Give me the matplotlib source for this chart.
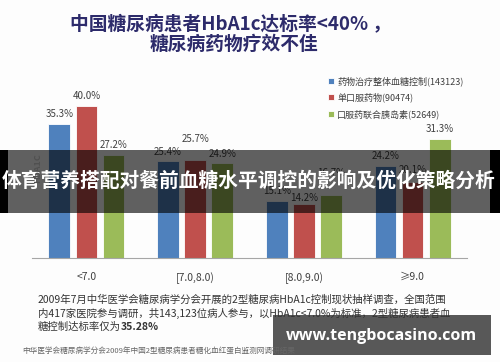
import matplotlib
matplotlib.use('Agg')
import matplotlib.pyplot as plt
from matplotlib.patches import Rectangle
import numpy as np

plt.rcParams['font.family'] = ['Noto Sans CJK SC', 'DejaVu Sans']

# data
categories = ['<7.0', '[7.0,8.0)', '[8.0,9.0)', '≥9.0']
series_names = ['药物治疗整体血糖控制(143123)', '单口服药物(90474)', '口服药联合胰岛素(52649)']
overall = [35.3, 25.4, 15.1, 24.2]
oral_only = [40.0, 25.7, 14.2, 20.1]
oral_insulin = [27.2, 24.9, 16.7, 31.3]
series_values = [overall, oral_only, oral_insulin]
colors = ['#4f81bd', '#c0504d', '#9bbb59']

title_lines = ['中国糖尿病患者HbA1c达标率<40% ，', '糖尿病药物疗效不佳']
banner_text = '体育营养搭配对餐前血糖水平调控的影响及优化策略分析'
note_lines = ['2009年7月中华医学会糖尿病学分会开展的2型糖尿病HbA1c控制现状抽样调查，全国范围',
              '内417家医院参与调研，共143,123位病人参与，以HbA1c<7.0%为标准，2型糖尿病患者血',
              '糖控制达标率仅为']
note_bold = '35.28%'
source_text = '中华医学会糖尿病学分会2009年中国2型糖尿病患者糖化血红蛋白监测网调研结果'
watermark = 'www.tengbocasino.com'

# label lifts (points) where the original moved labels up/down
label_lift = {(1, 1): 12, (2, 2): 12, (1, 2): 1, (1, 3): 5}

W, H = 500, 362
fig = plt.figure(figsize=(W / 100, H / 100), dpi=100)
fig.patch.set_facecolor('#fdfdfd')

# main chart axes, placed in pixel terms
ax = fig.add_axes([32 / W, (H - 258) / H, 435 / W, 190 / H])
ax.set_facecolor('none')
x = np.arange(len(categories))
width = 0.2
offsets = [-0.25, 0, 0.25]
bars = []
for s, (vals, col, name) in enumerate(zip(series_values, colors, series_names)):
    b = ax.bar(x + offsets[s], vals, width, color=col, edgecolor='white', linewidth=0.6, label=name)
    bars.append(b)
    for g, v in enumerate(vals):
        ax.annotate(f'{v:.1f}%', (x[g] + offsets[s], v), xytext=(0, label_lift.get((s, g), 3.5)),
                    textcoords='offset points', ha='center', va='bottom', fontsize=7, color='#404040')

ax.set_xlim(-0.5, 3.5)
ax.set_ylim(0, 50)
for sp in ['top', 'right', 'left']:
    ax.spines[sp].set_visible(False)
ax.spines['bottom'].set_color('#a6a6a6')
ax.set_yticks([])
ax.set_xticks(x)
ax.set_xticklabels(categories, fontsize=7.5, color='#404040')
ax.tick_params(axis='x', length=0, pad=10)

fig.text(38 / W, 1 - 153 / H, 'HbA1C', rotation=90, ha='center', va='top', fontsize=6.5,
         color='#505050', fontweight='bold')

fig.legend(handles=bars, labels=series_names, loc='upper left', bbox_to_anchor=(320 / W, 1 - 68 / H),
           frameon=False, fontsize=6.5, handlelength=0.6, handleheight=0.6, handletextpad=0.4,
           labelspacing=0.75, labelcolor='#404040')

# overlay in pixel coords for title, banner, notes
ov = fig.add_axes([0, 0, 1, 1])
ov.set_xlim(0, W)
ov.set_ylim(H, 0)
ov.axis('off')
ov.patch.set_alpha(0)

ov.text(231, 24, title_lines[0], ha='center', va='center', fontsize=13.5, fontweight='bold', color='#2d2b6b')
ov.text(234, 44, title_lines[1], ha='center', va='center', fontsize=13.5, fontweight='bold', color='#2d2b6b')

ov.add_patch(Rectangle((0, 150), W, 63, facecolor='black', alpha=0.62, edgecolor='none'))
ov.add_patch(Rectangle((0, 150), 8, 63, facecolor='black', edgecolor='none'))
ov.add_patch(Rectangle((490, 150), 10, 63, facecolor='black', edgecolor='none'))
ov.text(249, 181, banner_text, ha='center', va='center', fontsize=14.2, fontweight='bold', color='white')

for i, line in enumerate(note_lines):
    t = ov.text(38, 299 + i * 14, line, ha='left', va='center', fontsize=7.5, color='#333333')
fig.canvas.draw()
bb = t.get_window_extent(fig.canvas.get_renderer())
ov.text(bb.x1, 299 + 2 * 14, note_bold, ha='left', va='center', fontsize=7.5, color='#333333', fontweight='bold')

ov.text(22, 351, source_text, ha='left', va='center', fontsize=5.5, color='#666666')

ov.add_patch(Rectangle((273, 315), 218, 40, facecolor='#4a4a4a', alpha=0.92, edgecolor='none'))
ov.text(381, 336, watermark, ha='center', va='center', fontsize=11.5, fontweight='bold', color='white',
        family=['Open Sans', 'DejaVu Sans'])

fig.savefig('out.png', dpi=100, facecolor=fig.get_facecolor())
